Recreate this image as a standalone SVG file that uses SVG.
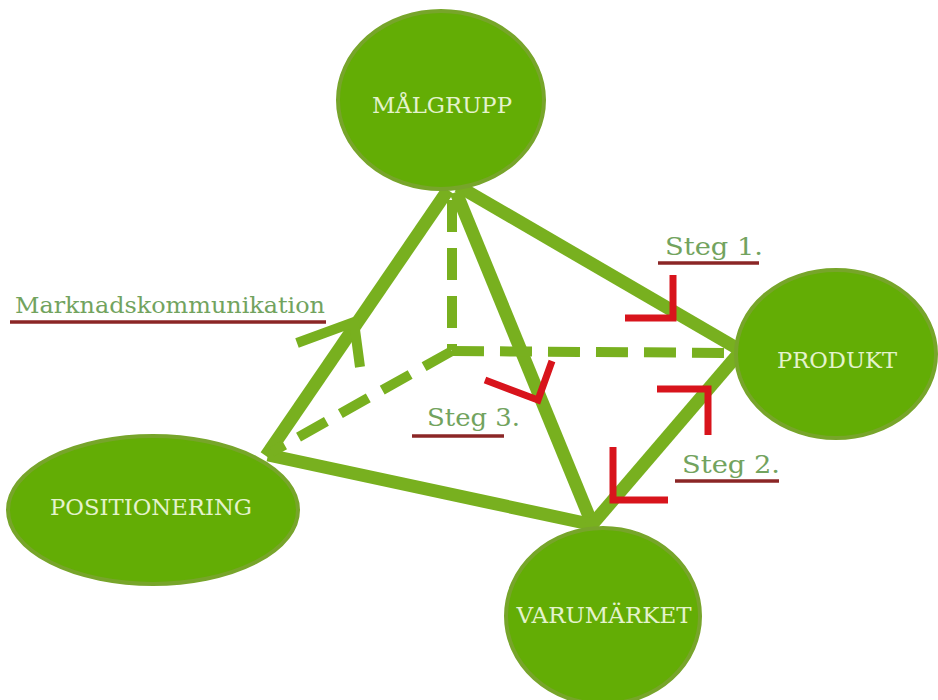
<svg xmlns="http://www.w3.org/2000/svg" width="938" height="700" viewBox="0 0 938 700">
<style>
.node{fill:#63ad05;stroke:#77a52a;stroke-width:4}
.nt{font-family:"DejaVu Serif","Liberation Serif",serif;font-size:23px;fill:#e4f3cc}
.edge{stroke:#78b01f;stroke-width:13;fill:none;stroke-linecap:butt}
.dash{stroke:#78b01f;stroke-width:10;fill:none;stroke-dasharray:32 16}
.red{stroke:#d8141c;stroke-width:7;fill:none;stroke-linecap:butt;stroke-linejoin:miter}
.lbl{font-family:"DejaVu Serif","Liberation Serif",serif;fill:#72a35e}
.ul{stroke:#8b2626;stroke-width:3.5}
</style>
<rect width="938" height="700" fill="#ffffff"/>
<g id="connectors">
<line class="edge" x1="448" y1="190" x2="266" y2="456"/>
<line class="edge" x1="458" y1="186" x2="740" y2="350"/>
<line class="edge" x1="456" y1="192" x2="593" y2="526"/>
<line class="edge" x1="268" y1="455" x2="594" y2="525"/>
<line class="edge" x1="590" y1="527" x2="740" y2="352"/>
<line class="dash" x1="452" y1="200" x2="452" y2="350"/>
<line class="dash" x1="452" y1="351" x2="735" y2="353"/>
<line class="dash" x1="452" y1="351" x2="272" y2="452"/>
<polyline points="297,343 354,322 360,367" fill="none" stroke="#78b01f" stroke-width="10" stroke-linejoin="miter"/>
</g>
<g id="markers">
<polyline class="red" points="625,318 673,318 673,275"/>
<polyline class="red" points="657,389 708,389 708,435"/>
<polyline class="red" points="613,447 613,500 668,500"/>
<polyline class="red" points="485,380 538,400 552,361"/>
</g>
<g id="malgrupp">
<ellipse class="node" cx="441" cy="100" rx="103" ry="89"/>
<text class="nt" x="442" y="113" text-anchor="middle" textLength="140" lengthAdjust="spacingAndGlyphs">MÅLGRUPP</text>
</g>
<g id="produkt">
<ellipse class="node" cx="836" cy="354" rx="100" ry="84"/>
<text class="nt" x="837" y="368" text-anchor="middle" textLength="120" lengthAdjust="spacingAndGlyphs">PRODUKT</text>
</g>
<g id="positionering">
<ellipse class="node" cx="153" cy="510" rx="145" ry="74"/>
<text class="nt" x="151" y="515" text-anchor="middle" textLength="202" lengthAdjust="spacingAndGlyphs">POSITIONERING</text>
</g>
<g id="varumarket">
<ellipse class="node" cx="603" cy="616" rx="97" ry="88"/>
<text class="nt" x="604" y="623" text-anchor="middle" textLength="175" lengthAdjust="spacingAndGlyphs">VARUMÄRKET</text>
</g>
<g id="labels">
<text class="lbl" x="15" y="313" font-size="22" textLength="310" lengthAdjust="spacingAndGlyphs">Marknadskommunikation</text>
<line class="ul" x1="10" y1="322" x2="326" y2="322"/>
<text class="lbl" x="665" y="255" font-size="25" textLength="98" lengthAdjust="spacingAndGlyphs">Steg 1.</text>
<line class="ul" x1="658" y1="263" x2="759" y2="263"/>
<text class="lbl" x="427" y="426" font-size="25" textLength="93" lengthAdjust="spacingAndGlyphs">Steg 3.</text>
<line class="ul" x1="412" y1="436" x2="504" y2="436"/>
<text class="lbl" x="682" y="473" font-size="25" textLength="98" lengthAdjust="spacingAndGlyphs">Steg 2.</text>
<line class="ul" x1="675" y1="481" x2="779" y2="481"/>
</g>
</svg>
